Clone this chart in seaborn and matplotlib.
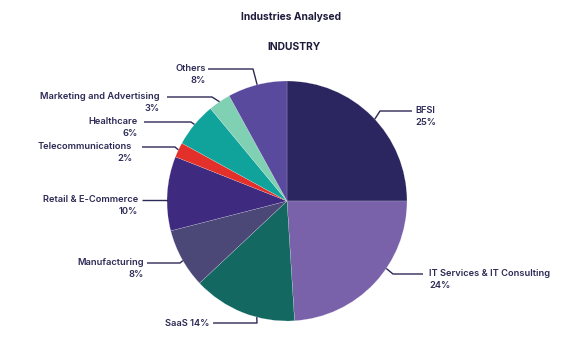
import numpy as np
import matplotlib
matplotlib.use("Agg")
import matplotlib.pyplot as plt
import seaborn as sns

# --- data ---
industries = ["BFSI", "IT Services & IT Consulting", "SaaS", "Manufacturing",
              "Retail & E-Commerce", "Telecommunications", "Healthcare",
              "Marketing and Advertising", "Others"]
shares = [25, 24, 14, 8, 10, 2, 6, 3, 8]
colors = ["#2b2660", "#7a62aa", "#136862", "#4b4878", "#3e2a7e",
          "#e3302b", "#10a39b", "#80d0b4", "#5a4a9e"]

# --- layout (pixel coords, y down) ---
W, H = 583, 357
CX, CY, R = 287, 201, 120
TXT = "#2c2a55"

# per label: side, text x, line y, elbow x, line end x, attach offset (deg)
side = ["r", "r", "s", "l", "l", "l", "l", "l", "l"]
text_x = [415, 429, 209, 144, 138, 132, 138, 160, 206]
line_y = [111, 274, 323, 263, 200, 147, 122, 97, 69]
elbow_x = [380, 393, 257, 180, 167, 175, 191, 212, 253]
end_x = [412, 423, 213, 147, 142, 142, 144, 167, 208]
attach_off = [2, -9, -7, -1, -3.6, 0, 0, 0, 0]

sns.set_theme(style="white")
plt.rcParams["font.family"] = ["Inter", "DejaVu Sans"]

fig = plt.figure(figsize=(W / 100, H / 100), dpi=100)
ax = fig.add_axes([0, 0, 1, 1])

wedges, _ = ax.pie(shares, colors=colors, startangle=-90, counterclock=True,
                   center=(CX, CY), radius=R,
                   wedgeprops=dict(edgecolor="white", linewidth=0.12))
ax.set_xlim(0, W)
ax.set_ylim(H, 0)
ax.set_aspect("equal")
ax.axis("off")

FS = 6.7
for i, w in enumerate(wedges):
    mid = np.deg2rad((w.theta1 + w.theta2) / 2 + attach_off[i])
    px, py = CX + R * np.cos(mid), CY + R * np.sin(mid)
    ly = line_y[i]
    ax.plot([px, elbow_x[i], end_x[i]], [py, ly, ly], color=TXT, lw=1.0,
            solid_capstyle="butt")
    pct = f"{shares[i]}%"
    if side[i] == "s":
        ax.text(text_x[i], ly, f"{industries[i]} {pct}", ha="right", va="center",
                fontsize=FS, fontweight="semibold", color=TXT)
        continue
    ha = "left" if side[i] == "r" else "right"
    ax.text(text_x[i], ly - 0.5, industries[i], ha=ha, va="center",
            fontsize=FS, fontweight="semibold", color=TXT)
    ax.text(text_x[i], ly + 11.5, pct, ha=ha, va="center",
            fontsize=FS, fontweight="semibold", color=TXT)

ax.text(291, 17, "Industries Analysed", ha="center", va="center",
        fontsize=7.4, fontweight="bold", color="#1e1c3a")
ax.text(294, 47, "INDUSTRY", ha="center", va="center",
        fontsize=7.4, fontweight="bold", color="#1e1c3a")

fig.savefig("out.png", dpi=100, facecolor="white")
